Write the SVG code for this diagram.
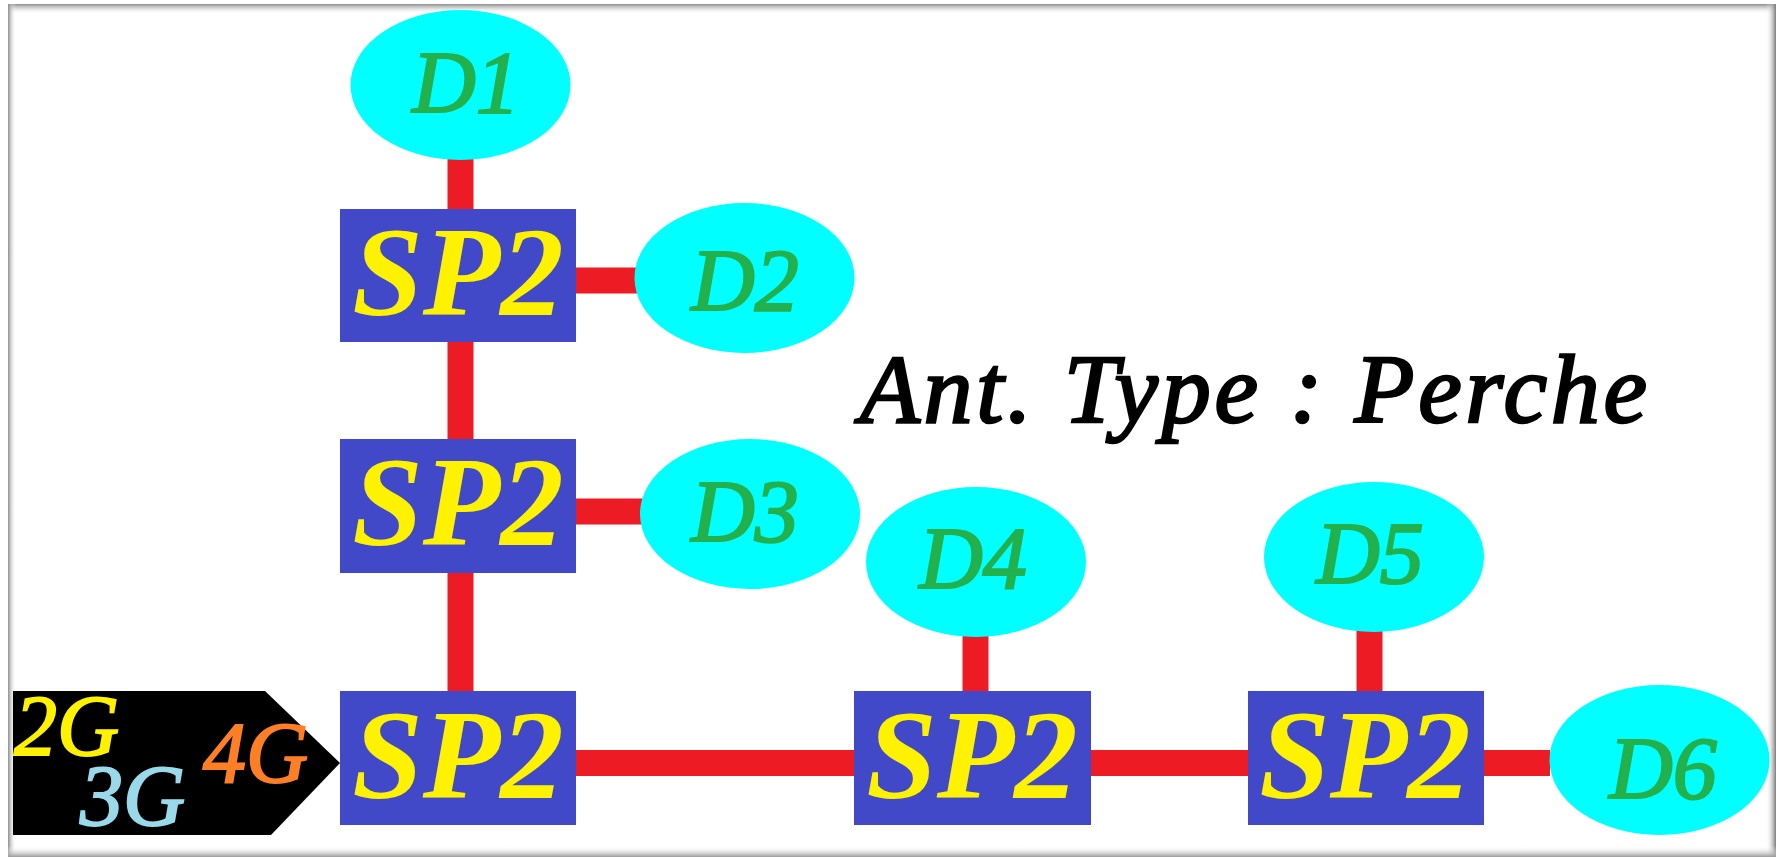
<svg xmlns="http://www.w3.org/2000/svg" width="1781" height="857" viewBox="0 0 1781 857">
  <defs>
    <linearGradient id="gTop" x1="0" y1="0" x2="0" y2="1">
      <stop offset="0" stop-color="#8c8c8c"/>
      <stop offset="1" stop-color="#ffffff" stop-opacity="0"/>
    </linearGradient>
    <linearGradient id="gLeft" x1="0" y1="0" x2="1" y2="0">
      <stop offset="0" stop-color="#8c8c8c"/>
      <stop offset="1" stop-color="#ffffff" stop-opacity="0"/>
    </linearGradient>
    <linearGradient id="gRight" x1="1" y1="0" x2="0" y2="0">
      <stop offset="0" stop-color="#7a7a7a"/>
      <stop offset="1" stop-color="#ffffff" stop-opacity="0"/>
    </linearGradient>
    <linearGradient id="gBottom" x1="0" y1="1" x2="0" y2="0">
      <stop offset="0" stop-color="#9a9a9a"/>
      <stop offset="1" stop-color="#ffffff" stop-opacity="0"/>
    </linearGradient>
    <style>
      .conn { stroke: #ed1c24; stroke-width: 26; fill: none; }
      .box { fill: #4149c9; }
      .dev { fill: #00ffff; }
      .sp { font-family: "Liberation Serif", "Times New Roman", serif; font-style: italic; font-weight: bold; font-size: 127px; fill: #fff200; text-anchor: middle; }
      .dl { font-family: "Liberation Serif", "Times New Roman", serif; font-style: italic; font-weight: normal; font-size: 88px; fill: #22b14c; stroke: #22b14c; stroke-width: 2.2; text-anchor: middle; }
      .g { font-family: "Liberation Serif", "Times New Roman", serif; font-style: italic; font-weight: normal; font-size: 86px; stroke-width: 2; }
      .title { font-family: "Liberation Serif", "Times New Roman", serif; font-style: italic; font-weight: normal; font-size: 98px; fill: #000000; stroke: #000000; stroke-width: 2.5; }
    </style>
  </defs>

  <rect x="0" y="0" width="1781" height="857" fill="#ffffff"/>

  <g id="frame">
    <rect x="8" y="4" width="1768" height="10" fill="url(#gTop)"/>
    <rect x="8" y="4" width="8" height="853" fill="url(#gLeft)"/>
    <rect x="1766" y="4" width="10" height="853" fill="url(#gRight)"/>
    <rect x="8" y="846" width="1768" height="11" fill="url(#gBottom)"/>
  </g>

  <g id="connectors">
    <line class="conn" x1="460.5" y1="150" x2="460.5" y2="691"/>
    <line class="conn" x1="576" y1="280.5" x2="640" y2="280.5"/>
    <line class="conn" x1="576" y1="511.5" x2="645" y2="511.5"/>
    <line class="conn" x1="576" y1="763" x2="1550" y2="763"/>
    <line class="conn" x1="975.5" y1="630" x2="975.5" y2="691"/>
    <line class="conn" x1="1369.5" y1="625" x2="1369.5" y2="691"/>
  </g>

  <g id="source">
    <polygon points="13,691 265,691 340,763 271,835 13,835" fill="#000000"/>
    <text class="g" x="14" y="755" fill="#fff200" stroke="#fff200">2G</text>
    <text class="g" x="80" y="825" fill="#99d9ea" stroke="#99d9ea">3G</text>
    <text class="g" x="203" y="782" fill="#ff7f27" stroke="#ff7f27">4G</text>
  </g>

  <g id="sp2-1">
    <rect class="box" x="340" y="209" width="236" height="133"/>
    <text class="sp" x="458" y="315">SP2</text>
  </g>
  <g id="sp2-2">
    <rect class="box" x="340" y="439" width="236" height="134"/>
    <text class="sp" x="458" y="545">SP2</text>
  </g>
  <g id="sp2-3">
    <rect class="box" x="340" y="691" width="236" height="134"/>
    <text class="sp" x="458" y="798">SP2</text>
  </g>
  <g id="sp2-4">
    <rect class="box" x="854" y="691" width="237" height="134"/>
    <text class="sp" x="972" y="798">SP2</text>
  </g>
  <g id="sp2-5">
    <rect class="box" x="1248" y="691" width="236" height="134"/>
    <text class="sp" x="1365" y="798">SP2</text>
  </g>

  <g id="d1">
    <ellipse class="dev" cx="460.5" cy="85" rx="110" ry="75"/>
    <text class="dl" x="466" y="112">D1</text>
  </g>
  <g id="d2">
    <ellipse class="dev" cx="744.5" cy="278" rx="110" ry="75"/>
    <text class="dl" x="745" y="310">D2</text>
  </g>
  <g id="d3">
    <ellipse class="dev" cx="750" cy="514" rx="110" ry="75"/>
    <text class="dl" x="745" y="541">D3</text>
  </g>
  <g id="d4">
    <ellipse class="dev" cx="976" cy="562" rx="110" ry="75"/>
    <text class="dl" x="973" y="588">D4</text>
  </g>
  <g id="d5">
    <ellipse class="dev" cx="1374" cy="557" rx="110" ry="75"/>
    <text class="dl" x="1370" y="583">D5</text>
  </g>
  <g id="d6">
    <ellipse class="dev" cx="1659.5" cy="760" rx="110" ry="75"/>
    <text class="dl" x="1663" y="798">D6</text>
  </g>

  <g id="title">
    <text class="title" x="860" y="422" textLength="787" lengthAdjust="spacing">Ant. Type : Perche</text>
  </g>
</svg>
